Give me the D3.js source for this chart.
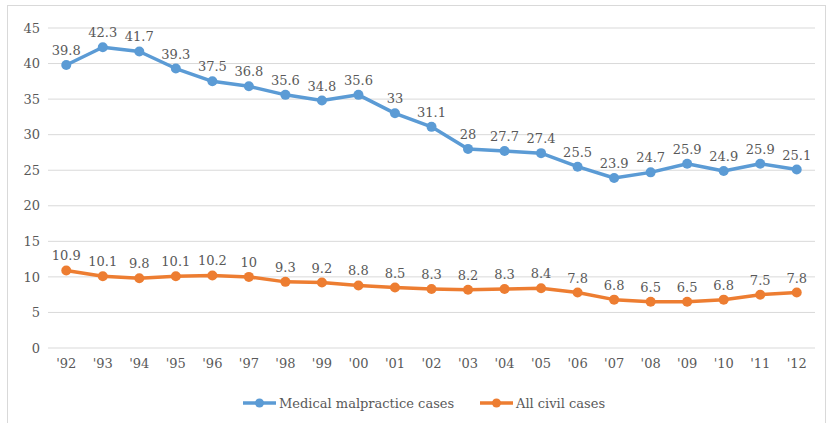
<!DOCTYPE html>
<html>
<head>
<meta charset="utf-8">
<script src="https://cdn.jsdelivr.net/npm/d3@7"></script>
<style>
body { margin: 0; background: #fff; }
text { font-family: "DejaVu Serif", "Liberation Serif", serif; fill: #595959; }
</style>
</head>
<body>
<div id="main_div"></div>
<script>
var years = ["'92","'93","'94","'95","'96","'97","'98","'99","'00","'01","'02","'03","'04","'05","'06","'07","'08","'09","'10","'11","'12"];
var malpractice = [39.8,42.3,41.7,39.3,37.5,36.8,35.6,34.8,35.6,33,31.1,28,27.7,27.4,25.5,23.9,24.7,25.9,24.9,25.9,25.1];
var civil = [10.9,10.1,9.8,10.1,10.2,10,9.3,9.2,8.8,8.5,8.3,8.2,8.3,8.4,7.8,6.8,6.5,6.5,6.8,7.5,7.8];
var y_ticks = [0,5,10,15,20,25,30,35,40,45];
var series_names = ["Medical malpractice cases", "All civil cases"];
var colors = ["#5B9BD5", "#ED7D31"];

var W = 828, H = 423;
var svg = d3.select("#main_div").append("svg").attr("width", W).attr("height", H);

svg.append("rect").attr("x", 7.5).attr("y", 5.5).attr("width", 818).attr("height", 420)
    .attr("fill", "#fff").attr("stroke", "#d9d9d9");

var x_scale = d3.scaleBand().domain(years).range([48, 815]);
var y_scale = d3.scaleLinear().domain([0, 45]).range([348, 28]);

// grid
svg.append("g").selectAll("line").data(y_ticks).enter().append("line")
    .attr("x1", 48).attr("x2", 815)
    .attr("y1", function(d) { return y_scale(d); })
    .attr("y2", function(d) { return y_scale(d); })
    .attr("stroke", "#d9d9d9").attr("stroke-width", 1);

var g_y = svg.append("g").attr("transform", "translate(40,0)")
    .call(d3.axisLeft(y_scale).tickValues(y_ticks).tickSize(0).tickPadding(0));
g_y.select(".domain").remove();
g_y.selectAll("text").attr("font-size", 13).attr("font-family", null).attr("fill", "#595959");

var g_x = svg.append("g").attr("transform", "translate(0,348)")
    .call(d3.axisBottom(x_scale).tickSize(0).tickPadding(11));
g_x.select(".domain").remove();
g_x.selectAll("text").attr("font-size", 13).attr("font-family", null).attr("fill", "#595959");

function cx(d, i) { return x_scale(years[i]) + x_scale.bandwidth() / 2; }

[malpractice, civil].forEach(function(vals, k) {
    var line = d3.line().x(function(d, i) { return cx(d, i); }).y(function(d) { return y_scale(d); });
    svg.append("path").datum(vals).attr("d", line).attr("fill", "none")
        .attr("stroke", colors[k]).attr("stroke-width", 3.5).attr("stroke-linejoin", "round");
    svg.append("g").selectAll("circle").data(vals).enter().append("circle")
        .attr("cx", cx).attr("cy", function(d) { return y_scale(d); })
        .attr("r", 5).attr("fill", colors[k]);
    svg.append("g").selectAll("text").data(vals).enter().append("text")
        .attr("x", cx).attr("y", function(d) { return y_scale(d) - 10; })
        .attr("text-anchor", "middle").attr("font-size", 13)
        .text(function(d) { return d; });
});

// legend
var leg = [243, 480];
series_names.forEach(function(name, k) {
    var g = svg.append("g").attr("transform", "translate(" + leg[k] + ",403)");
    g.append("line").attr("x1", 0).attr("x2", 33).attr("y1", 0).attr("y2", 0)
        .attr("stroke", colors[k]).attr("stroke-width", 3.5);
    g.append("circle").attr("cx", 16.5).attr("cy", 0).attr("r", 4.5).attr("fill", colors[k]);
    g.append("text").attr("x", 36).attr("y", 4.5).attr("font-size", 13).text(name);
});
</script>
</body>
</html>
